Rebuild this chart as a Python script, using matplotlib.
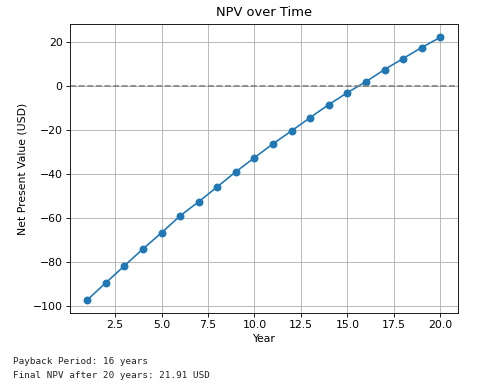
import matplotlib
matplotlib.use("Agg")
import matplotlib.pyplot as plt

years = list(range(1, 21))
npv = [-97.3, -89.5, -81.8, -74.1, -66.8, -59.1, -52.7, -45.9, -39.1, -32.7,
       -26.4, -20.5, -14.5, -8.6, -3.2, 1.8, 7.3, 12.3, 17.3, 21.91]
payback_year = 16
final_npv = 21.91

s = 0.78
plt.rcParams['font.size'] = 10 * s
fig = plt.figure(figsize=(4.84, 3.85), dpi=100)
ax = fig.add_axes([0.144, 0.187, 0.802, 0.750])
ax.plot(years, npv, marker='o', color='#1f77b4', linewidth=1.5 * s, markersize=6 * s)
ax.axhline(0, color='gray', linestyle='--', linewidth=1.5 * s)
ax.set_title('NPV over Time', fontsize=12 * s)
ax.set_xlabel('Year', labelpad=3)
ax.set_ylabel('Net Present Value (USD)')
ax.grid(True, linewidth=0.8 * s)
for sp in ax.spines.values():
    sp.set_linewidth(0.8 * s)
ax.tick_params(width=0.8 * s, length=3.5 * s, pad=3 * s)

fig.text(13 / 484, 1 - 362 / 385, f'Payback Period: {payback_year} years',
         family='DejaVu Sans Mono', fontsize=6.7, va='center', color='#222222')
fig.text(13 / 484, 1 - 376 / 385, f'Final NPV after 20 years: {final_npv:.2f} USD',
         family='DejaVu Sans Mono', fontsize=6.7, va='center', color='#222222')
fig.savefig('out.png', dpi=100)
